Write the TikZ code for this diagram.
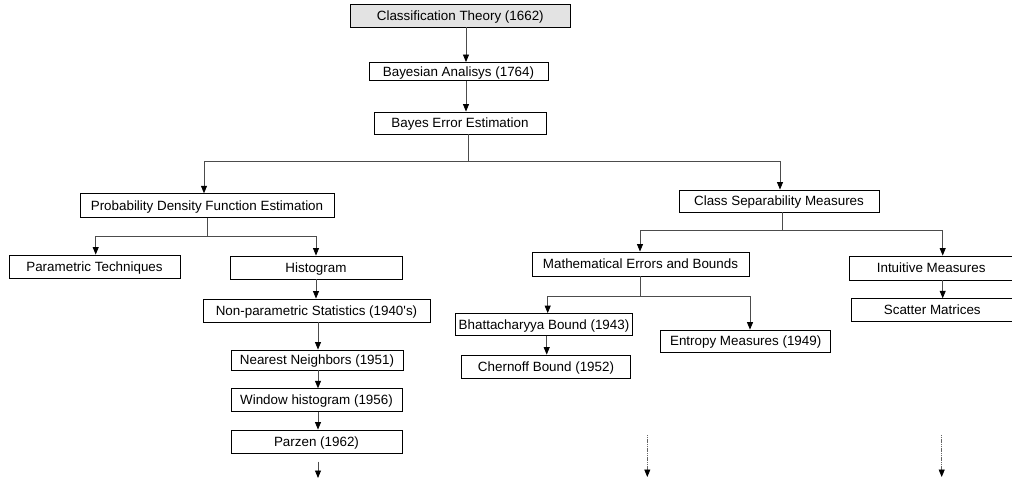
\documentclass[tikz,border=0pt]{standalone}
\usepackage{fontspec}
\setmainfont{Liberation Sans}[Ligatures=TeXOff]
\usetikzlibrary{arrows.meta}
\tikzset{
  x=1pt, y=-1pt,
  box/.style={draw=black, line width=0.9pt, fill=white, inner sep=0pt,
    font=\fontsize{13.4}{15}\selectfont, text height=9.4pt, text depth=0pt,
    anchor=center},
  rootbox/.style={box, fill=black!11},
  link/.style={draw=black!70, line width=0.85pt},
  arr/.style={link, -{Triangle[width=6pt,length=7.5pt,color=black]}},
  tail/.style={arr, draw=black!60, dash pattern=on 1.2pt off 0.6pt},
}
\newcommand{\bx}[6][box]{% style, name, cx, cy, w, h, text
  \node[#1, minimum width=#5pt, minimum height=#6pt] (#2) at (#3,#4)}
\begin{document}
\begin{tikzpicture}
\useasboundingbox (0,0) rectangle (1012,479);

% top of the tree
\bx[rootbox]{ct}{460.3}{15.5}{219.5}{23} {Classification Theory (1662)};
\bx{ba}{458.5}{71.5}{179}{18} {Bayesian Analisys (1764)};
\bx{bee}{460}{123}{172}{22} {Bayes Error Estimation};

% density estimation branch
\bx{pdf}{207}{205.5}{254}{23.5} {Probability Density Function Estimation};
\bx{pt}{94.5}{266.5}{171}{23} {Parametric Techniques};
\bx{hist}{316}{267.5}{172}{23} {Histogram};
\bx{np}{316.5}{310.5}{227}{23} {Non-parametric Statistics (1940's)};
\bx{nn}{317}{360}{172}{20} {Nearest Neighbors (1951)};
\bx{win}{316.5}{400}{171}{22.5} {Window histogram (1956)};
\bx{pz}{316.5}{441.5}{171}{23} {Parzen (1962)};

% separability branch
\bx{csm}{779}{201}{200}{22} {Class Separability Measures};
\bx{meb}{640.5}{264}{217}{24} {Mathematical Errors and Bounds};
\bx{bh}{544}{324.3}{177.7}{21.5} {Bhattacharyya Bound (1943)};
\bx{ch}{546}{366.7}{168.3}{23.3} {Chernoff Bound (1952)};
\bx{em}{745.7}{341.2}{170}{22.3} {Entropy Measures (1949)};
\bx{im}{931.2}{268}{163.6}{24} {Intuitive Measures};
\bx{sm}{932.3}{310}{161.4}{22.5} {Scatter Matrices};

% junction points of the elbow connectors
\coordinate (j0) at (468,161);
\coordinate (j1) at (207,236.5);
\coordinate (j2) at (782.7,230);
\coordinate (j3) at (640,296);
% open ends of the continuation arrows
\coordinate (e1) at (318,478);
\coordinate (s2) at (647.3,435);
\coordinate (e2) at (647.3,477);
\coordinate (s3) at (941.7,435);
\coordinate (e3) at (941.7,477);

% straight chains
\draw[arr] (466,0 |- ct.south) -- (466,0 |- ba.north);
\draw[arr] (466,0 |- ba.south) -- (466,0 |- bee.north);

\draw[link] (j0 |- bee.south) -- (j0);
\draw[arr] (j0) -| (204,0 |- pdf.north);
\draw[arr] (j0) -| (780,0 |- csm.north);

\draw[link] (j1 |- pdf.south) -- (j1);
\draw[arr] (j1) -| (95.7,0 |- pt.north);
\draw[arr] (j1) -| (316,0 |- hist.north);

\draw[arr] (316,0 |- hist.south) -- (316,0 |- np.north);
\draw[arr] (318,0 |- np.south) -- (318,0 |- nn.north);
\draw[arr] (318,0 |- nn.south) -- (318,0 |- win.north);
\draw[arr] (318,0 |- win.south) -- (318,0 |- pz.north);
\draw[arr] (318,461.7) -- (e1);

\draw[link] (j2 |- csm.south) -- (j2);
\draw[arr] (j2) -| (640,0 |- meb.north);
\draw[arr] (j2) -| (942.7,0 |- im.north);
\draw[arr] (942.7,0 |- im.south) -- (942.7,0 |- sm.north);

\draw[link] (j3 |- meb.south) -- (j3);
\draw[arr] (j3) -| (547.7,0 |- bh.north);
\draw[arr] (j3) -| (750,0 |- em.north);
\draw[arr] (546.7,0 |- bh.south) -- (546.7,0 |- ch.north);

\draw[tail] (s2) -- (e2);
\draw[tail] (s3) -- (e3);
\end{tikzpicture}
\end{document}
